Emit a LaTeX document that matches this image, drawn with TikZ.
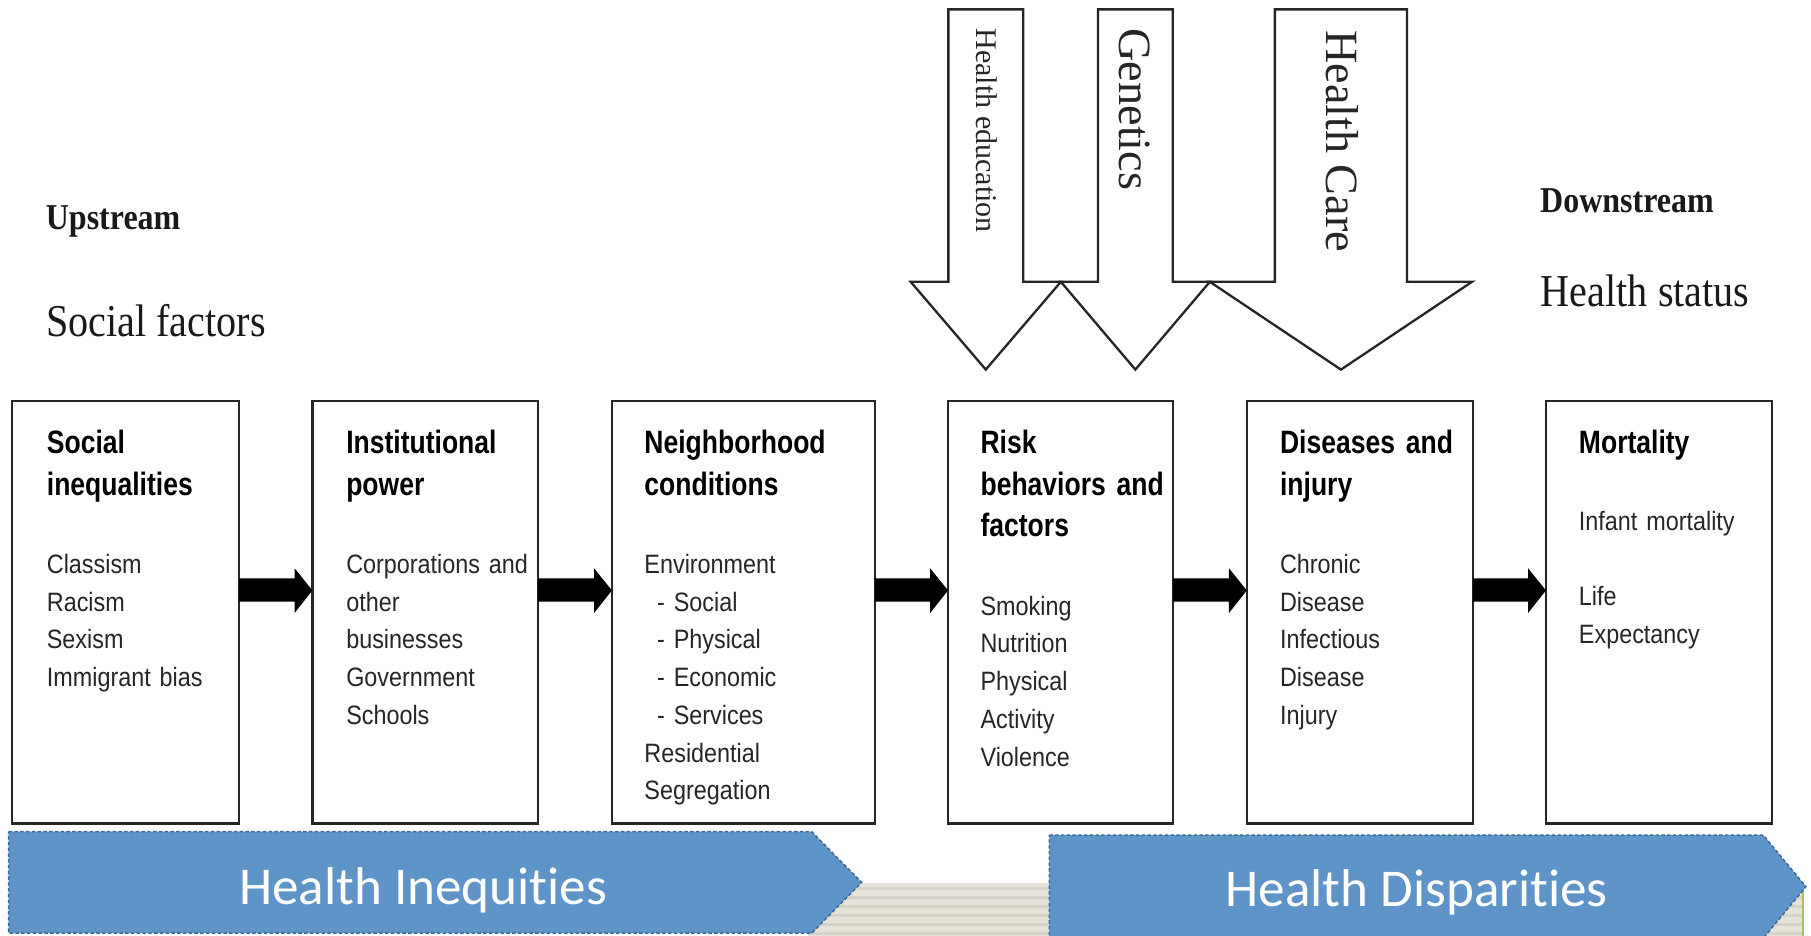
\documentclass[tikz,border=0pt]{standalone}
\usepackage{fontspec}
\setmainfont{Liberation Serif}
\newfontfamily\boxfont[FakeStretch=0.88]{Liberation Sans}
\newfontfamily\titfont[FakeStretch=0.82]{Liberation Sans}
\newfontfamily\serifsq[FakeStretch=0.88]{Liberation Serif}
\newfontfamily\serifrot{Liberation Serif}
\newfontfamily\bannerfont[Ligatures={NoCommon,NoRequired,NoContextual}]{Carlito}
\usetikzlibrary{calc}
\definecolor{bannerblue}{RGB}{95,148,200}
\definecolor{bannerline}{RGB}{60,105,150}
\definecolor{stripeA}{RGB}{230,227,219}
\definecolor{stripeB}{RGB}{214,210,200}
\definecolor{edgegreen}{RGB}{160,195,90}
\tikzset{
  boxst/.style={draw=black!85, line width=2pt, fill=white, outer sep=0pt, inner sep=0pt, minimum height=366pt},
  titst/.style={anchor=base west, inner sep=0pt, text width=200pt, align=left, text=black,
    font=\titfont\bfseries\fontsize{28}{36.1}\selectfont},
  bodyst/.style={anchor=base west, inner sep=0pt, text width=200pt, align=left, text=black!85,
    font=\boxfont\fontsize{23}{32.7}\selectfont},
  bigarrow/.style={draw=black!85, line width=2pt, fill=white, line join=miter},
  rottext/.style={rotate=-90, anchor=west, inner sep=0pt, text=black!85},
  banner/.style={fill=bannerblue, draw=bannerline, line width=1.3pt, dash pattern=on 3pt off 2pt},
  bannertext/.style={anchor=base, inner sep=0pt, text=white, font=\bannerfont\fontsize{46}{46}\selectfont},
  headlabel/.style={anchor=base west, inner sep=0pt, text=black!90},
  flowarrow/.style={fill=black}
}
\begin{document}
\begin{tikzpicture}[x=1pt, y=-1pt]
\useasboundingbox (0,0) rectangle (1568,810);
\fill[white] (0,0) rectangle (1568,810);

% striped background strip at the bottom
\fill[stripeA] (700,764.5) rectangle (1561,812);
\foreach \k in {0,...,6} {
  \fill[stripeB] (700,{768+7.8*\k}) rectangle (1561,{770.6+7.8*\k});
}
\draw[edgegreen, line width=1.2pt] (1561,764.5) -- (1561,812);

% headings
\node[headlabel, font=\serifsq\bfseries\fontsize{31.5}{31.5}\selectfont] (up) at (39.5,199) {Upstream};
\node[headlabel, font=\serifsq\fontsize{39.5}{39.5}\selectfont] (sf) at (39.8,291) {Social factors};
\node[headlabel, font=\serifsq\bfseries\fontsize{31.5}{31.5}\selectfont] (down) at (1333.3,183.8) {Downstream};
\node[headlabel, font=\serifsq\fontsize{39.5}{39.5}\selectfont] (hs) at (1334,265.5) {Health status};

% big outline arrows at the top
\draw[bigarrow] (853.5-32.4,8.1) -- (853.5+32.4,8.1) -- (853.5+32.4,244) -- (853.5+65,244)
  -- (853.5,320) -- (853.5-65,244) -- (853.5-32.4,244) -- cycle;
\draw[bigarrow] (983-32.3,8.1) -- (983+32.3,8.1) -- (983+32.3,244) -- (983+64.5,244)
  -- (983,320) -- (983-64.5,244) -- (983-32.3,244) -- cycle;
\draw[bigarrow] (1161-57.2,8.1) -- (1161+57.2,8.1) -- (1161+57.2,244) -- (1161+113.5,244)
  -- (1161,320) -- (1161-113.5,244) -- (1161-57.2,244) -- cycle;
\node[rottext, font=\serifrot\fontsize{26}{26}\selectfont] (he) at (854.5,24.5) {Health education};
\node[rottext, font=\serifrot\fontsize{40}{40}\selectfont] (gen) at (982.5,24.5) {Genetics};
\node[rottext, font=\serifrot\fontsize{40}{40}\selectfont] (hc) at (1162,26) {Health Care};

% boxes
\node[boxst, minimum width=196.6pt] (box1) at (108.8,530) {};
\node[boxst, minimum width=195.1pt] (box2) at (368.05,530) {};
\node[boxst, minimum width=227.6pt] (box3) at (643.6,530) {};
\node[boxst, minimum width=195pt] (box4) at (918.3,530) {};
\node[boxst, minimum width=195.7pt] (box5) at (1177.35,530) {};
\node[boxst, minimum width=195.7pt] (box6) at (1436.35,530) {};

% box texts
\node[titst] (t1) at ($(box1.north west)+(29.9,45.5)$) {Social\\inequalities};
\node[bodyst] (c1) at ($(box1.north west)+(29.9,149.4)$) {Classism\\Racism\\Sexism\\Immigrant bias};

\node[titst] (t2) at ($(box2.north west)+(29.1,45.5)$) {Institutional\\power};
\node[bodyst] (c2) at ($(box2.north west)+(29.1,149.4)$) {Corporations and\\other\\businesses\\Government\\Schools};

\node[titst] (t3) at ($(box3.north west)+(28,45.5)$) {Neighborhood\\conditions};
\node[bodyst] (c3) at ($(box3.north west)+(28,149.4)$) {Environment\\\hspace*{11pt}- Social\\\hspace*{11pt}- Physical\\\hspace*{11pt}- Economic\\\hspace*{11pt}- Services\\Residential\\Segregation};

\node[titst] (t4) at ($(box4.north west)+(28,45.5)$) {Risk\\behaviors and\\factors};
\node[bodyst] (c4) at ($(box4.north west)+(28,185.5)$) {Smoking\\Nutrition\\Physical\\Activity\\Violence};

\node[titst] (t5) at ($(box5.north west)+(28.6,45.5)$) {Diseases and\\injury};
\node[bodyst] (c5) at ($(box5.north west)+(28.6,149.4)$) {Chronic\\Disease\\Infectious\\Disease\\Injury};

\node[titst] (t6) at ($(box6.north west)+(28.4,45.5)$) {Mortality};
\node[bodyst] (c6) at ($(box6.north west)+(28.4,111.9)$) {Infant mortality\\[32.7pt]Life\\Expectancy};

% thick black connectors between boxes
\foreach \a/\b in {box1/box2,box2/box3,box3/box4,box4/box5,box5/box6} {
  \fill[flowarrow] ($(\a.east)+(0,-29.3)$) -- ($(\b.west)+(-15.5,-29.3)$) -- ($(\b.west)+(-15.5,-38)$)
    -- ($(\b.west)+(0,-18.8)$) -- ($(\b.west)+(-15.5,0.8)$) -- ($(\b.west)+(-15.5,-9)$)
    -- ($(\a.east)+(0,-9)$) -- cycle;
}

% banners
\draw[banner] (7.5,720) -- (702.7,720) -- (746,764) -- (702.7,808) -- (7.5,808) -- cycle;
\draw[banner] (908.5,723) -- (1526.6,723) -- (1563.6,767.7) -- (1526.6,812.4) -- (908.5,812.4) -- cycle;
\node[bannertext] (hi) at (366.5,783.5) {Health Inequities};
\node[bannertext] (hd) at (1226.5,785) {Health Disparities};
\end{tikzpicture}
\end{document}
